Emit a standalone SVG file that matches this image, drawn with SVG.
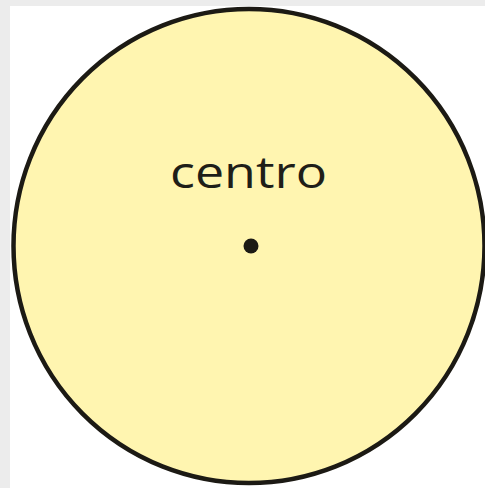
<svg xmlns="http://www.w3.org/2000/svg" width="485" height="488" viewBox="0 0 485 488">
  <style>
    .label { font-family: "Open Sans", "Noto Sans", "DejaVu Sans", sans-serif; font-size: 44px; font-weight: 500; fill: #1e1e18; }
  </style>
  <rect x="0" y="0" width="485" height="488" fill="#ececec"/>
  <rect x="10" y="6" width="475" height="482" fill="#ffffff"/>
  <g id="circle">
    <ellipse cx="249" cy="246" rx="235.5" ry="237" fill="#fff5b0" stroke="#1c1a14" stroke-width="4.5"/>
  </g>
  <g id="centro">
    <text class="label" x="170" y="188" textLength="157" lengthAdjust="spacingAndGlyphs">centro</text>
    <circle cx="251" cy="246" r="7.5" fill="#1c1a14"/>
  </g>
  <g id="connectors"></g>
</svg>
